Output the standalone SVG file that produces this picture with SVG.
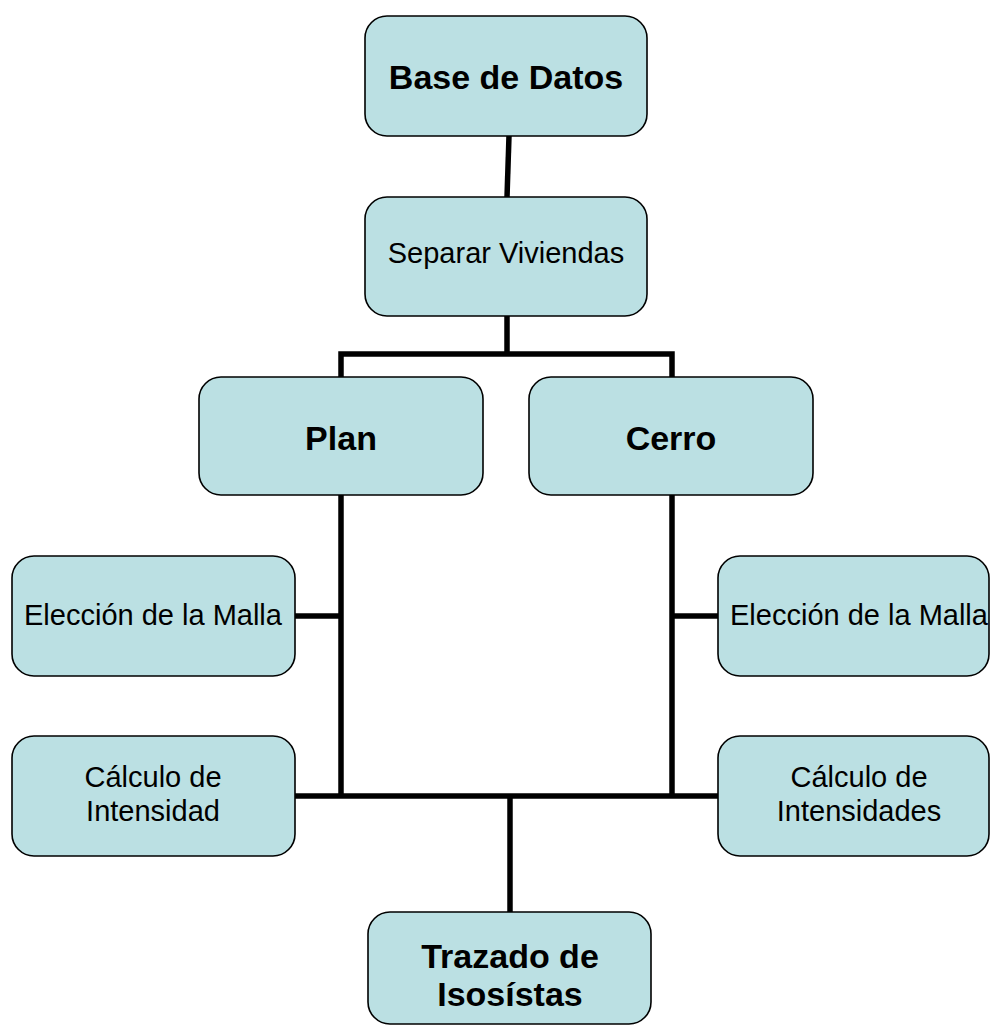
<svg xmlns="http://www.w3.org/2000/svg" width="990" height="1026" viewBox="0 0 990 1026">
<style>
.box{fill:#BBE0E3;stroke:#000;stroke-width:1.6}
.t{font-family:"Liberation Sans",Arial,sans-serif;font-size:29px;fill:#000;text-anchor:middle}
.b{font-weight:bold;font-size:34px}
.c{fill:none;stroke:#000;stroke-width:5.5;stroke-linecap:butt;stroke-linejoin:miter}
</style>
<rect width="990" height="1026" fill="#fff"/>
<g id="connectors">
<line class="c" x1="509" y1="136" x2="507" y2="197"/>
<polyline class="c" points="507,316 507,354"/>
<polyline class="c" points="341,377 341,354 672,354 672,377"/>
<polyline class="c" points="341,495 341,796"/>
<polyline class="c" points="672,495 672,796"/>
<line class="c" x1="295" y1="616" x2="341" y2="616"/>
<line class="c" x1="672" y1="616" x2="718" y2="616"/>
<line class="c" x1="295" y1="796" x2="718" y2="796"/>
<line class="c" x1="510" y1="796" x2="510" y2="912"/>
</g>
<g id="base-datos">
<rect class="box" x="365" y="16" width="282" height="120" rx="22"/>
<text class="t b" x="506" y="89">Base de Datos</text>
</g>
<g id="separar-viviendas">
<rect class="box" x="365" y="197" width="282" height="119" rx="22"/>
<text class="t" x="506" y="263">Separar Viviendas</text>
</g>
<g id="plan">
<rect class="box" x="199" y="377" width="284" height="118" rx="22"/>
<text class="t b" x="341" y="450">Plan</text>
</g>
<g id="cerro">
<rect class="box" x="529" y="377" width="284" height="118" rx="22"/>
<text class="t b" x="671" y="450">Cerro</text>
</g>
<g id="eleccion-plan">
<rect class="box" x="12" y="556" width="283" height="120" rx="22"/>
<text class="t" x="153" y="625">Elección de la Malla</text>
</g>
<g id="calculo-plan">
<rect class="box" x="12" y="736" width="283" height="120" rx="22"/>
<text class="t" x="153" y="787">Cálculo de</text>
<text class="t" x="153" y="821">Intensidad</text>
</g>
<g id="eleccion-cerro">
<rect class="box" x="718" y="556" width="271" height="120" rx="22"/>
<text class="t" x="859" y="625">Elección de la Malla</text>
</g>
<g id="calculo-cerro">
<rect class="box" x="718" y="736" width="271" height="120" rx="22"/>
<text class="t" x="859" y="787">Cálculo de</text>
<text class="t" x="859" y="821">Intensidades</text>
</g>
<g id="trazado">
<rect class="box" x="368" y="912" width="283" height="112" rx="22"/>
<text class="t b" x="510" y="968">Trazado de</text>
<text class="t b" x="510" y="1006">Isosístas</text>
</g>
</svg>
